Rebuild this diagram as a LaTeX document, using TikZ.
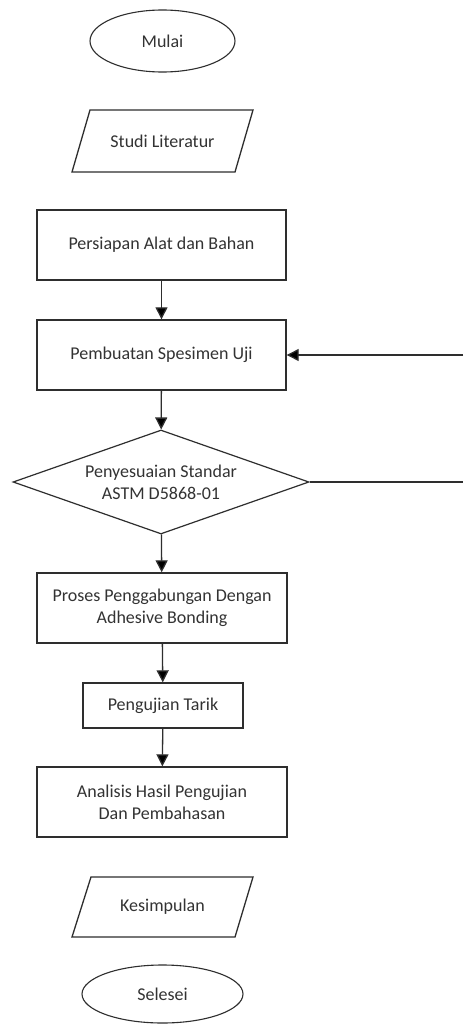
\documentclass[tikz,border=0pt]{standalone}
\usepackage{fontspec}
\setmainfont{Carlito}
\usetikzlibrary{shapes.geometric,arrows.meta}
\definecolor{ln}{HTML}{2E2E2E}
\definecolor{tx}{HTML}{333333}
\begin{document}
\begin{tikzpicture}[x=1pt,y=-1pt,
  every node/.style={text=tx,font=\fontsize{18}{22}\selectfont,inner sep=0pt},
  proc/.style={draw=ln,line width=1.4pt,rectangle,align=center},
  term/.style={draw=ln,line width=1.1pt,ellipse},
  dec/.style={draw=ln,line width=1.2pt,diamond,aspect=2.85,align=center},
  io/.style={draw=ln,line width=1.3pt},
  link/.style={draw=ln,line width=1.3pt},
  arr/.style={link,-{Triangle[width=12pt,length=12pt,fill=black]}}]
\useasboundingbox (0,0) rectangle (464,1025);
\fill[white] (0,0) rectangle (464,1025);
% terminals
\node[term,minimum width=145pt,minimum height=62pt] (mulai) at (162.5,41) {Mulai};
\node (studi) at (162.5,141) {Studi Literatur};
\draw[io] (72,172) -- (90,110) -- (253,110) -- (235,172) -- cycle;
\node[proc,minimum width=249pt,minimum height=70pt] (persiapan) at (161.5,245) {Persiapan Alat dan Bahan};
\node[proc,minimum width=249pt,minimum height=70pt] (pembuatan) at (161.5,355) {Pembuatan Spesimen Uji};
\node[dec,minimum width=296pt,minimum height=104pt] (standar) at (161,482) {Penyesuaian Standar\\ASTM D5868-01};
\node[proc,minimum width=250pt,minimum height=70pt] (proses) at (162,608) {Proses Penggabungan Dengan\\Adhesive Bonding};
\node[proc,minimum width=160pt,minimum height=45pt] (tarik) at (163,705.5) {Pengujian Tarik};
\node[proc,minimum width=250pt,minimum height=70pt] (analisis) at (162,802) {Analisis Hasil Pengujian\\Dan Pembahasan};
\node (kesimpulan) at (162.5,907) {Kesimpulan};
\draw[io] (72,937) -- (91,877) -- (253,877) -- (235,937) -- cycle;
\node[term,minimum width=161pt,minimum height=58pt] (selesei) at (162.5,994) {Selesei};
% connectors
\draw[arr] (persiapan) -- (pembuatan);
\draw[arr] (pembuatan) -- (standar);
\draw[arr] (standar) -- (proses);
\draw[arr] (proses) -- (tarik);
\draw[arr] (tarik) -- (analisis);
\coordinate (r1) at (463,482);
\coordinate (r2) at (463,355);
\draw[link] (standar.east) -- (r1);
\draw[arr] (r2) -- (pembuatan.east);
\end{tikzpicture}
\end{document}
